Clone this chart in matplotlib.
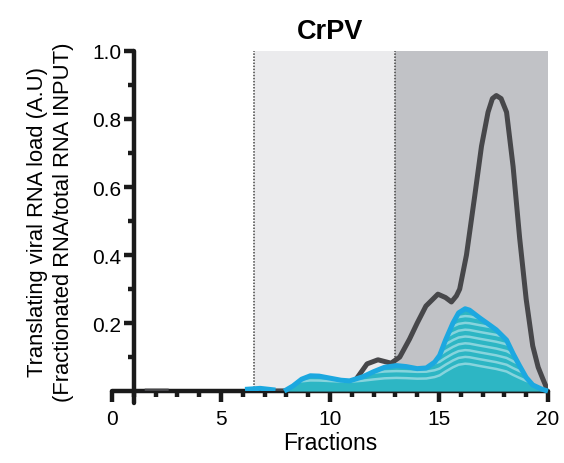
import numpy as np
import matplotlib.pyplot as plt
from matplotlib.ticker import MultipleLocator, FixedLocator

plt.rcParams['font.family'] = ['Liberation Sans', 'DejaVu Sans']

# gray curve (total profile), nan breaks the separate bits
gray_x = [1.5, 2.6, np.nan, 7.4, 10.8, 11.2, 11.7, 12.2, 12.8, 13.2, 13.65, 14.0, 14.4,
          14.95, 15.3, 15.57, 15.8, 15.95, 16.26, 16.64, 16.95, 17.25, 17.45, 17.63,
          17.85, 18.1, 18.4, 18.7, 19.0, 19.3, 19.55, 19.77, 20.0]
gray_y = [0, 0, np.nan, 0, 0, 0.035, 0.08, 0.092, 0.082, 0.10, 0.153, 0.2, 0.25,
          0.285, 0.275, 0.262, 0.28, 0.30, 0.40, 0.574, 0.72, 0.82, 0.86, 0.869,
          0.86, 0.82, 0.66, 0.45, 0.27, 0.133, 0.07, 0.035, 0.0]

# blue curve (translating fraction)
blue_x_a = [6.1, 6.8, 7.5]
blue_y_a = [0.005, 0.008, 0.003]
blue_x = [7.9, 8.3, 8.7, 9.1, 9.5, 10.0, 10.5, 10.9, 11.5, 12.0, 12.5, 13.05, 13.5,
          14.0, 14.42, 14.8, 15.03, 15.3, 15.64, 15.9, 16.2, 16.4, 16.87, 17.2, 17.63,
          18.1, 18.4, 18.7, 19.0, 19.3, 19.7, 20.0]
blue_y = [0.0, 0.015, 0.035, 0.045, 0.044, 0.038, 0.032, 0.03, 0.042, 0.057, 0.07,
          0.075, 0.072, 0.066, 0.068, 0.085, 0.105, 0.15, 0.2, 0.23, 0.242, 0.238,
          0.215, 0.2, 0.18, 0.15, 0.11, 0.074, 0.04, 0.018, 0.006, 0.0]

light_span = (6.5, 13)
dark_span = (13, 20)

fig = plt.figure(figsize=(5.64, 4.64), dpi=100)
ax = fig.add_axes([0.1986, 0.155, 0.7730, 0.733])

ax.axvspan(*light_span, ymin=0, ymax=1, color='#EBEBED', lw=0, zorder=0)
ax.axvspan(*dark_span, ymin=0, ymax=1, color='#C1C2C6', lw=0, zorder=0)
for xv in (light_span[0], dark_span[0]):
    ax.plot([xv, xv], [0, 1], ls=(0, (1, 1)), color='#444444', lw=1.1, zorder=1)

ax.plot(gray_x, gray_y, color='#47474A', lw=3.6, zorder=3,
        solid_joinstyle='round', solid_capstyle='butt')

bx = np.array(blue_x)
by = np.array(blue_y)
fill = ax.fill_between(bx, 0, by, color='#2DB6C4', lw=0, zorder=4)
# wavy light stripes inside the fill
for k in range(1, 14):
    sl, = ax.plot(bx, k * 0.02 + 0.25 * by, color='#86D4DD', lw=1.8, zorder=5)
    sl.set_clip_path(fill.get_paths()[0], ax.transData)

ax.plot(blue_x_a, blue_y_a, color='#1CA8E0', lw=3.6, zorder=6, solid_capstyle='butt')
ax.plot(bx, by, color='#1CA8E0', lw=3.6, zorder=6, solid_joinstyle='round',
        solid_capstyle='butt', clip_on=False)

ax.set_xlim(0, 20)
ax.set_ylim(0, 1.0)
ax.spines['top'].set_visible(False)
ax.spines['right'].set_visible(False)
ax.spines['left'].set_position(('data', 1))
ax.spines['left'].set_bounds(-0.035, 1.0)
for s in ('left', 'bottom'):
    ax.spines[s].set_linewidth(3.2)
    ax.spines[s].set_color('#1a1a1a')
    ax.spines[s].set_zorder(2)
    ax.spines[s].set_capstyle('round')

ax.xaxis.set_major_locator(MultipleLocator(5))
ax.xaxis.set_minor_locator(MultipleLocator(1))
ax.yaxis.set_major_locator(FixedLocator([0.2, 0.4, 0.6, 0.8, 1.0]))
ax.yaxis.set_minor_locator(FixedLocator([0.1, 0.3, 0.5, 0.7, 0.9]))
ax.set_yticklabels(['0.2', '0.4', '0.6', '0.8', '1.0'])
ax.tick_params(axis='both', which='major', length=7, width=3.2, color='#1a1a1a',
               labelsize=15, pad=2)
ax.tick_params(axis='both', which='minor', length=4.5, width=3.2, color='#1a1a1a')
ax.tick_params(axis='x', which='major', length=8, pad=5)

ax.set_xlabel('Fractions', fontsize=16.5, labelpad=2)
ax.set_ylabel('Translating viral RNA load (A.U)\n(Fractionated RNA/total RNA INPUT)',
              fontsize=15.8, linespacing=1.35, labelpad=13)
ax.set_title('CrPV', fontsize=19.5, fontweight='bold', pad=9)

fig.savefig('out.png', dpi=100)
